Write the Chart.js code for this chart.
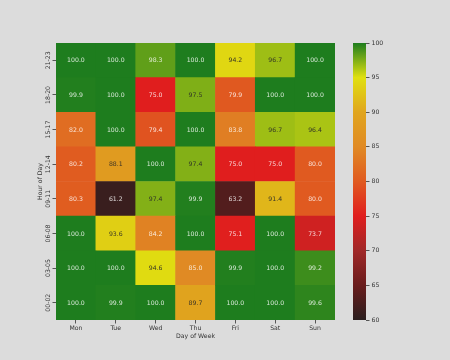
<!DOCTYPE html>
<html>
<head>
<meta charset="utf-8">
<script src="https://cdn.jsdelivr.net/npm/chart.js@4"></script>
<style>
  html, body { margin: 0; padding: 0; background: #dcdcdc; }
  #wrap { position: relative; width: 450px; height: 360px; }
  canvas { position: absolute; left: 0; top: 0; }
</style>
</head>
<body>
<div id="wrap">
  <canvas id="heat" width="450" height="360"></canvas>
  <canvas id="cbar" width="450" height="360"></canvas>
</div>
<script>
// categories
const days = ['Mon', 'Tue', 'Wed', 'Thu', 'Fri', 'Sat', 'Sun'];
const hourBins = ['21-23', '18-20', '15-17', '12-14', '09-11', '06-08', '03-05', '00-02']; // top to bottom

// values per hour bin, Mon..Sun
const h21_23 = [100.0, 100.0, 98.3, 100.0, 94.2, 96.7, 100.0];
const h18_20 = [99.9, 100.0, 75.0, 97.5, 79.9, 100.0, 100.0];
const h15_17 = [82.0, 100.0, 79.4, 100.0, 83.8, 96.7, 96.4];
const h12_14 = [80.2, 88.1, 100.0, 97.4, 75.0, 75.0, 80.0];
const h09_11 = [80.3, 61.2, 97.4, 99.9, 63.2, 91.4, 80.0];
const h06_08 = [100.0, 93.6, 84.2, 100.0, 75.1, 100.0, 73.7];
const h03_05 = [100.0, 100.0, 94.6, 85.0, 99.9, 100.0, 99.2];
const h00_02 = [100.0, 99.9, 100.0, 89.7, 100.0, 100.0, 99.6];
const rows = [h21_23, h18_20, h15_17, h12_14, h09_11, h06_08, h03_05, h00_02];

// colour scale
const vmin = 60, vmax = 100;
const cbarTicks = [60, 65, 70, 75, 80, 85, 90, 95, 100];
const cmapStops = [60, 65, 70, 75, 80, 85, 90, 95, 100];
const cmapColors = [
    [42, 30, 30], [105, 28, 28], [160, 40, 40], [224, 30, 30], [224, 90, 32],
    [224, 138, 36], [224, 165, 30], [224, 224, 16], [30, 125, 30]
];

const FONT = 'DejaVu Sans';
const TXT = '#333333';

function cmap(v) {
    v = Math.max(vmin, Math.min(vmax, v));
    for (let i = 1; i < cmapStops.length; i++) {
        if (v <= cmapStops[i]) {
            const t = (v - cmapStops[i - 1]) / (cmapStops[i] - cmapStops[i - 1]);
            const a = cmapColors[i - 1], b = cmapColors[i];
            return a.map((c, k) => Math.round(c + (b[k] - c) * t));
        }
    }
    return cmapColors[cmapColors.length - 1];
}
const rgb = c => `rgb(${c[0]},${c[1]},${c[2]})`;

function luminance(c) {
    const lin = c.map(x => {
        x /= 255;
        return x <= 0.03928 ? x / 12.92 : Math.pow((x + 0.055) / 1.055, 2.4);
    });
    return 0.2126 * lin[0] + 0.7152 * lin[1] + 0.0722 * lin[2];
}

// stacked bars, bottom row first; every cell is one unit tall
const datasets = rows.slice().reverse().map((vals, i) => ({
    label: hourBins[hourBins.length - 1 - i],
    data: vals.map(() => 1),
    values: vals,
    backgroundColor: vals.map(v => rgb(cmap(v))),
    borderWidth: 0,
    barPercentage: 1,
    categoryPercentage: 1
}));

// write the value in each cell
const cellLabels = {
    id: 'cellLabels',
    afterDatasetsDraw(chart) {
        const ctx = chart.ctx;
        ctx.save();
        ctx.font = `6.2px "${FONT}"`;
        ctx.textAlign = 'center';
        ctx.textBaseline = 'middle';
        chart.data.datasets.forEach((ds, di) => {
            chart.getDatasetMeta(di).data.forEach((bar, j) => {
                const v = ds.values[j];
                ctx.fillStyle = luminance(cmap(v)) > 0.35 ? 'rgba(40,40,40,0.9)' : 'rgba(255,255,255,0.82)';
                ctx.fillText(v.toFixed(1), bar.x, (bar.y + bar.base) / 2 + 0.5);
            });
        });
        ctx.restore();
    }
};

new Chart(document.getElementById('heat'), {
    type: 'bar',
    data: { labels: days, datasets: datasets },
    options: {
        responsive: false,
        animation: false,
        layout: { padding: { left: 32.3, top: 43, right: 115, bottom: 16.3 } },
        plugins: { legend: { display: false }, tooltip: { enabled: false } },
        scales: {
            x: {
                stacked: true,
                grid: { offset: false, drawOnChartArea: false, tickLength: 3.5, color: TXT, tickWidth: 0.8 },
                border: { display: false },
                ticks: { color: TXT, font: { family: FONT, size: 6.2 }, padding: 1 },
                title: { display: true, text: 'Day of Week', color: TXT, font: { family: FONT, size: 6.2 }, padding: { top: 0, bottom: 4 } },
                afterFit: s => { s.height = 23.7; }
            },
            y: {
                stacked: true,
                display: false,
                min: 0,
                max: hourBins.length
            },
            yl: {
                type: 'category',
                labels: hourBins,
                position: 'left',
                offset: true,
                grid: { offset: false, drawOnChartArea: false, tickLength: 3.5, color: TXT, tickWidth: 0.8 },
                border: { display: false },
                ticks: { color: TXT, font: { family: FONT, size: 6.2 }, minRotation: 90, maxRotation: 90, crossAlign: 'center', padding: -4.5 },
                title: { display: true, text: 'Hour of Day', color: TXT, font: { family: FONT, size: 6.2 }, padding: { top: 4, bottom: 0 } },
                afterFit: s => { s.width = 23.7; }
            }
        }
    },
    plugins: [cellLabels]
});

// colour bar
function cbarGradient(context) {
    const chart = context.chart;
    const area = chart.chartArea;
    if (!area) return rgb(cmap(vmax));
    const ys = chart.scales.y;
    const top = ys.getPixelForValue(vmax), bottom = ys.getPixelForValue(vmin);
    const g = chart.ctx.createLinearGradient(0, bottom, 0, top);
    cmapStops.forEach((s, i) => g.addColorStop((s - vmin) / (vmax - vmin), rgb(cmapColors[i])));
    return g;
}

new Chart(document.getElementById('cbar'), {
    type: 'bar',
    data: {
        labels: [''],
        datasets: [{
            data: [[vmin, vmax]],
            backgroundColor: cbarGradient,
            borderWidth: 0,
            borderSkipped: false,
            barPercentage: 1,
            categoryPercentage: 1
        }]
    },
    options: {
        responsive: false,
        animation: false,
        layout: { padding: { left: 353, top: 43, right: 54, bottom: 40 } },
        plugins: { legend: { display: false }, tooltip: { enabled: false } },
        scales: {
            x: { display: false },
            y: {
                position: 'right',
                min: vmin,
                max: vmax,
                afterBuildTicks: s => { s.ticks = cbarTicks.map(v => ({ value: v })); },
                grid: { drawOnChartArea: false, tickLength: 3.5, color: TXT, tickWidth: 0.8 },
                border: { display: false },
                ticks: { color: TXT, font: { family: FONT, size: 6.2 }, padding: 2 },
                afterFit: s => { s.width = 30; }
            }
        }
    }
});
</script>
</body>
</html>
